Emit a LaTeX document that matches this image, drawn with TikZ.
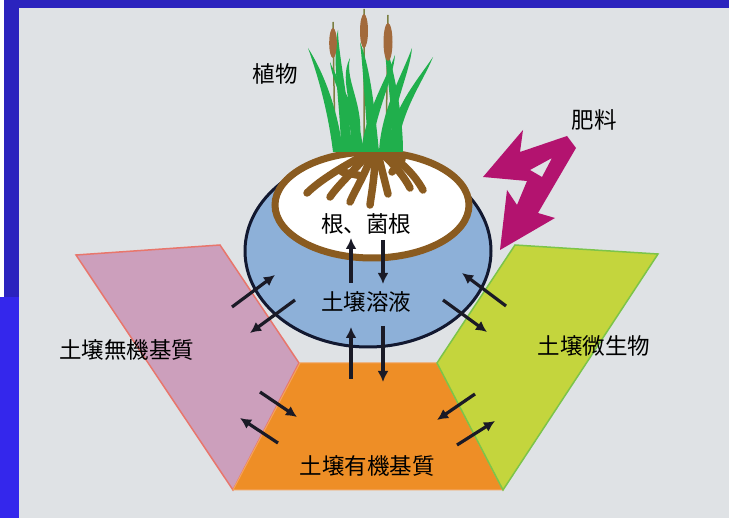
\documentclass[tikz,border=0pt]{standalone}
\usepackage{fontspec}
\newfontfamily\jpfont{Noto Sans CJK JP}
\usetikzlibrary{arrows.meta}
\definecolor{slidebg}{HTML}{DFE2E5}
\definecolor{framedark}{HTML}{2B23BE}
\definecolor{framebright}{HTML}{3427EC}
\definecolor{inorgfill}{HTML}{CC9FBC}
\definecolor{inorgedge}{HTML}{E8766C}
\definecolor{orgfill}{HTML}{EE8E26}
\definecolor{orgedge}{HTML}{F3A45E}
\definecolor{microfill}{HTML}{C4D53D}
\definecolor{microedge}{HTML}{7CC449}
\definecolor{solfill}{HTML}{8DB0D8}
\definecolor{rimink}{HTML}{121830}
\definecolor{rootbrown}{HTML}{8A5B20}
\definecolor{leafgreen}{HTML}{20AF4C}
\definecolor{spikebrown}{HTML}{A26A3C}
\definecolor{fertmag}{HTML}{B3136F}
\definecolor{arrowink}{HTML}{1A1A26}
\tikzstyle{soiltext}=[font=\jpfont\fontsize{22.5}{26}\selectfont, inner sep=0pt]
\tikzstyle{flow}=[draw=arrowink, line width=3.2pt, -{Latex[length=11pt,width=11pt]}]
\tikzstyle{root}=[draw=rootbrown, line width=7.5pt, line cap=round]
\newcommand\leaf[5]{% base x, tip x, tip y, bend of lower and upper control
        \fill[leafgreen] (#1-5,152) .. controls (#1-5+#4,110) and (#2+#5-3,#3+25) .. (#2,#3)
                .. controls (#2+#5+4,#3+25) and (#1+5+#4,110) .. (#1+5,152) -- cycle;}

\begin{document}
\begin{tikzpicture}[x=1pt,y=-1pt]
        % slide frame
        \fill[white] (0,0) rectangle (729,518);
        \fill[framedark] (4,0) rectangle (729,8);
        \fill[framedark] (4,0) rectangle (19,297);
        \fill[framebright] (0,297) rectangle (19,518);
        \fill[slidebg] (19,8) rectangle (729,518);

        % soil compartments
        \filldraw[fill=inorgfill, draw=inorgedge, line width=1.5pt] (76,255) -- (220,245) -- (299,363) -- (233,490) -- cycle;
        \filldraw[fill=orgfill, draw=orgedge, line width=1pt] (300,363) -- (437,363) -- (503,490) -- (233,490) -- cycle;
        \filldraw[fill=microfill, draw=microedge, line width=1.5pt] (515,245) -- (658,254) -- (503,490) -- (437,363) -- cycle;
        \filldraw[fill=solfill, draw=rimink, line width=3pt] (368,251) ellipse [x radius=123, y radius=96];
        \filldraw[fill=white, draw=rootbrown, line width=7pt] (372,205) ellipse [x radius=97, y radius=53];

        % roots
        \draw[root] (370,152) .. controls (345,165) and (320,180) .. (307,193);
        \draw[root] (368,154) .. controls (355,170) and (338,185) .. (330,197);
        \draw[root] (372,154) .. controls (365,175) and (355,190) .. (350,202);
        \draw[root] (375,154) .. controls (375,175) and (372,190) .. (370,205);
        \draw[root] (378,154) .. controls (382,170) and (385,182) .. (388,194);
        \draw[root] (380,152) .. controls (395,165) and (405,178) .. (410,188);
        \draw[root] (384,152) .. controls (400,160) and (415,175) .. (423,190);
        \draw[root] (362,176) -- (342,172);
        \draw[root] (392,172) -- (402,160);

        % plant
        \draw[spikebrown!70!leafgreen, line width=1.5pt] (335,150) -- (333,22) (364,150) -- (364,9) (386,150) -- (388,15);
        \leaf{338}{308}{48}{-5}{12}
        \leaf{346}{338}{30}{0}{-4}
        \leaf{352}{350}{58}{12}{-10}
        \leaf{358}{330}{62}{-2}{6}
        \leaf{366}{395}{55}{5}{-6}
        \leaf{374}{360}{42}{-4}{6}
        \leaf{384}{412}{48}{2}{-6}
        \leaf{392}{433}{57}{4}{-14}
        \leaf{398}{384}{38}{0}{4}
        \fill[spikebrown] (333,43) ellipse [x radius=3.8, y radius=15];
        \fill[spikebrown] (364,31) ellipse [x radius=4, y radius=17];
        \fill[spikebrown] (388,42) ellipse [x radius=4.5, y radius=19];

        % fertiliser input
        \fill[fertmag, even odd rule] (523,130) -- (520,152) -- (567,136) -- (576,148) -- (538,213) -- (555,218)
                -- (500,250) -- (507,190) -- (517,205) -- (527,181) -- (483,177) -- cycle
                (530,170) -- (552,158) -- (542,177) -- cycle;

        % labels
        \node[soiltext] (plant) at (275,74) {植物};
        \node[soiltext] (fert) at (594,120) {肥料};
        \node[soiltext] (roots) at (366,224) {根、菌根};
        \node[soiltext] (solution) at (366,302) {土壌溶液};
        \node[soiltext] (inorganic) at (127,350) {土壌無機基質};
        \node[soiltext] (microbes) at (594,346) {土壌微生物};
        \node[soiltext] (organic) at (367,466) {土壌有機基質};

        % exchange between compartments
        \coordinate (sol-a) at (351,283); \coordinate (root-a) at (351,238);
        \coordinate (root-b) at (383,240); \coordinate (sol-b) at (383,284);
        \coordinate (org-a) at (351,379); \coordinate (sol-c) at (351,327);
        \coordinate (sol-d) at (383,326); \coordinate (org-b) at (383,382);
        \coordinate (inorg-a) at (232,307); \coordinate (sol-e) at (275,275);
        \coordinate (sol-f) at (295,300); \coordinate (inorg-b) at (250,333);
        \coordinate (inorg-c) at (260,392); \coordinate (org-c) at (297,417);
        \coordinate (org-d) at (278,443); \coordinate (inorg-d) at (240,418);
        \coordinate (micro-a) at (506,306); \coordinate (sol-g) at (462,273);
        \coordinate (sol-h) at (443,300); \coordinate (micro-b) at (487,332);
        \coordinate (micro-c) at (475,394); \coordinate (org-e) at (437,420);
        \coordinate (org-f) at (457,445); \coordinate (micro-d) at (495,421);
        \draw[flow] (sol-a) -- (root-a);
        \draw[flow] (root-b) -- (sol-b);
        \draw[flow] (org-a) -- (sol-c);
        \draw[flow] (sol-d) -- (org-b);
        \draw[flow] (inorg-a) -- (sol-e);
        \draw[flow] (sol-f) -- (inorg-b);
        \draw[flow] (inorg-c) -- (org-c);
        \draw[flow] (org-d) -- (inorg-d);
        \draw[flow] (micro-a) -- (sol-g);
        \draw[flow] (sol-h) -- (micro-b);
        \draw[flow] (micro-c) -- (org-e);
        \draw[flow] (org-f) -- (micro-d);
\end{tikzpicture}
\end{document}
